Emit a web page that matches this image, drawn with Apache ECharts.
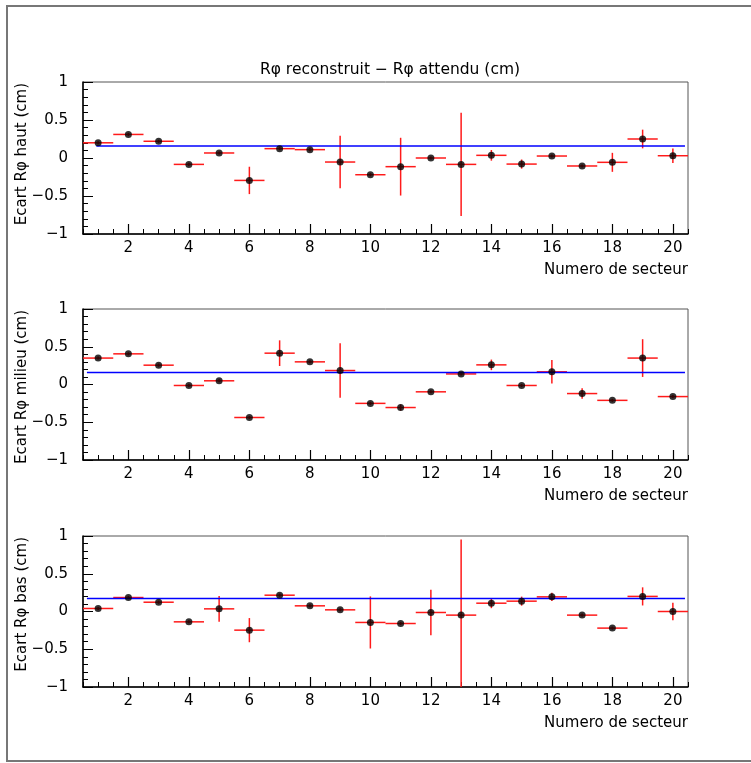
<!DOCTYPE html>
<html><head><meta charset="utf-8">
<script src="https://cdn.jsdelivr.net/npm/echarts@6/dist/echarts.min.js"></script>
<style>html,body{margin:0;padding:0;background:#fff}#c{width:751px;height:763px}</style>
</head><body><div id="c"></div>
<script>
// ---- data ----
const sectors = [1,2,3,4,5,6,7,8,9,10,11,12,13,14,15,16,17,18,19,20];
const majorTicks = [2,4,6,8,10,12,14,16,18,20];
const yTicks = [-1, -0.5, 0, 0.5, 1];

const hautValues = [0.20, 0.31, 0.22, -0.084, 0.066, -0.295, 0.123, 0.11, -0.053, -0.22, -0.114, 0.0, -0.084, 0.035, -0.08, 0.026, -0.105, -0.057, 0.25, 0.03];
const hautErrors = [0.02, 0.02, 0.02, 0.02, 0.02, 0.18, 0.02, 0.02, 0.345, 0.02, 0.38, 0.02, 0.68, 0.07, 0.06, 0.02, 0.02, 0.125, 0.123, 0.095];

const milieuValues = [0.35, 0.406, 0.256, -0.013, 0.049, -0.437, 0.415, 0.30, 0.185, -0.25, -0.305, -0.097, 0.14, 0.26, -0.013, 0.168, -0.12, -0.21, 0.35, -0.16];
const milieuErrors = [0.02, 0.02, 0.02, 0.02, 0.02, 0.02, 0.17, 0.02, 0.36, 0.02, 0.04, 0.02, 0.02, 0.07, 0.02, 0.155, 0.07, 0.02, 0.25, 0.02];

const basValues = [0.04, 0.185, 0.123, -0.137, 0.035, -0.247, 0.216, 0.075, 0.022, -0.145, -0.159, -0.013, -0.048, 0.11, 0.137, 0.194, -0.048, -0.22, 0.20, 0.0];
const basErrors = [0.02, 0.02, 0.02, 0.02, 0.17, 0.16, 0.02, 0.02, 0.02, 0.345, 0.02, 0.30, 1.0, 0.066, 0.06, 0.055, 0.02, 0.02, 0.12, 0.115];

const fitConstants = [0.158, 0.159, 0.172];
const fitStart = [0.94, 0.63, 0.63];
const fitEnd = [20.4, 20.4, 20.4];

const panelTitles = ['Ecart R\u03c6 haut (cm)', 'Ecart R\u03c6 milieu (cm)', 'Ecart R\u03c6 bas (cm)'];
const xTitle = 'Numero de secteur';
const mainTitle = 'R\u03c6 reconstruit \u2212 R\u03c6 attendu (cm)';

// ---- layout ----
const FONT = 'DejaVu Sans';
const gridTops = [82, 309, 536];
const gridHeights = [152, 151, 151];
const gridLeft = 83, gridWidth = 605;
const panels = [
  {v: hautValues, e: hautErrors},
  {v: milieuValues, e: milieuErrors},
  {v: basValues, e: basErrors}
];

function renderErr(params, api) {
  const x = api.value(0), y = api.value(1), e = api.value(2);
  const cl = v => Math.max(-1, Math.min(1, v));
  const pL = api.coord([x - 0.5, y]), pR = api.coord([x + 0.5, y]);
  const pT = api.coord([x, cl(y + e)]), pB = api.coord([x, cl(y - e)]);
  const st = {stroke: '#ff1a1a', lineWidth: 1.5};
  return {type: 'group', children: [
    {type: 'line', shape: {x1: pL[0], y1: pL[1], x2: pR[0], y2: pR[1]}, style: st},
    {type: 'line', shape: {x1: pT[0], y1: pT[1], x2: pB[0], y2: pB[1]}, style: st}
  ]};
}

const grid = [], xAxis = [], yAxis = [], series = [], graphic = [];
panels.forEach((p, i) => {
  grid.push({left: gridLeft, width: gridWidth, top: gridTops[i], height: gridHeights[i],
    show: true, borderColor: '#555', borderWidth: 1});
  xAxis.push({type: 'value', gridIndex: i, min: 0.5, max: 20.5, interval: 0.5,
    axisLine: {show: true, onZero: false, lineStyle: {color: '#000', width: 1.5}},
    axisTick: {show: true, inside: true, length: 5, lineStyle: {color: '#000', width: 1}},
    axisLabel: {show: false}, splitLine: {show: false}});
  xAxis.push({type: 'value', gridIndex: i, min: 0.5, max: 20.5, position: 'bottom',
    axisLine: {show: false, onZero: false},
    axisTick: {show: true, inside: true, length: 10, customValues: majorTicks, lineStyle: {color: '#000', width: 1.2}},
    axisLabel: {show: true, customValues: majorTicks, margin: 7, fontFamily: FONT, fontSize: 15, color: '#000'},
    splitLine: {show: false}});
  yAxis.push({type: 'value', gridIndex: i, min: -1, max: 1, interval: 0.5,
    axisLine: {show: true, onZero: false, lineStyle: {color: '#000', width: 1.5}},
    axisTick: {show: true, inside: true, length: 10, lineStyle: {color: '#000', width: 1}},
    minorTick: {show: true, splitNumber: 5, length: 5, lineStyle: {color: '#000', width: 1}},
    axisLabel: {margin: 15, fontFamily: FONT, fontSize: 15, color: '#000',
      formatter: v => String(v).replace('-', '\u2212')},
    splitLine: {show: false}, minorSplitLine: {show: false}});
  const errData = sectors.map((s, k) => [s, p.v[k], p.e[k]]);
  series.push({type: 'custom', xAxisIndex: 2 * i, yAxisIndex: i, renderItem: renderErr,
    data: errData, z: 2, silent: true});
  series.push({type: 'line', xAxisIndex: 2 * i, yAxisIndex: i, showSymbol: false, symbol: 'none',
    data: [[fitStart[i], fitConstants[i]], [fitEnd[i], fitConstants[i]]],
    lineStyle: {color: '#0000ff', width: 1.5}, z: 3, silent: true});
  series.push({type: 'scatter', xAxisIndex: 2 * i, yAxisIndex: i, symbol: 'circle', symbolSize: 7,
    itemStyle: {color: '#000'}, data: sectors.map((s, k) => [s, p.v[k]]), z: 4, silent: true});
  graphic.push({type: 'text', x: 22, y: gridTops[i] + 1, rotation: Math.PI / 2,
    style: {text: panelTitles[i], font: '15px "' + FONT + '"', fill: '#000', align: 'right', verticalAlign: 'middle'}});
  graphic.push({type: 'text', x: gridLeft + gridWidth, y: gridTops[i] + gridHeights[i] + 36,
    style: {text: xTitle, font: '15px "' + FONT + '"', fill: '#000', align: 'right', verticalAlign: 'middle'}});
});
graphic.push({type: 'text', x: 390, y: 70,
  style: {text: mainTitle, font: '15.5px "' + FONT + '"', fill: '#000', align: 'center', verticalAlign: 'middle'}});
graphic.push({type: 'rect', shape: {x: 7, y: 6, width: 770, height: 755},
  style: {fill: 'none', stroke: '#777', lineWidth: 2}, z: -1});

const chart = echarts.init(document.getElementById('c'), null, {renderer: 'canvas'});
chart.setOption({animation: false, grid, xAxis, yAxis, series, graphic});
</script></body></html>
